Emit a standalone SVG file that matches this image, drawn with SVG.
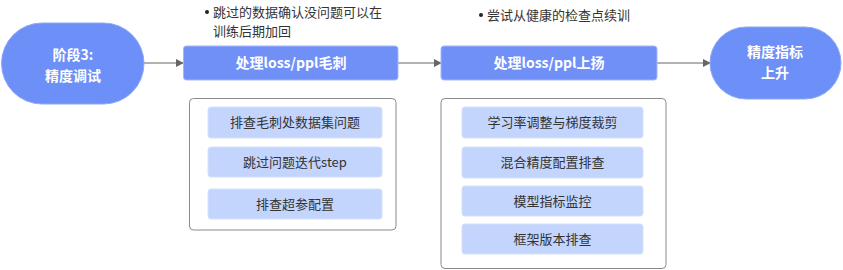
<svg xmlns="http://www.w3.org/2000/svg" width="843" height="270" viewBox="0 0 843 270">
<defs>
<marker id="arr" viewBox="0 0 10 10" refX="9" refY="5" markerWidth="8" markerHeight="8" markerUnits="userSpaceOnUse" orient="auto">
<path d="M0,0 L10,5 L0,10 z" fill="#666"/>
</marker>
<style>
.pill{fill:#6d8ff8;stroke:#8ea8f8;stroke-width:1}
.hdr{fill:#7090f8;stroke:#a3b7f9;stroke-width:1}
.wt{fill:#fff;font-family:"Noto Sans CJK SC","Noto Sans",sans-serif;font-size:14px;font-weight:bold;text-anchor:middle}
.cont{fill:#fff;stroke:#8a8a8a;stroke-width:1}
.item{fill:#c4d5fd;stroke:#d3e0fd;stroke-width:1}
.it{fill:#333;font-family:"Noto Sans CJK SC","Noto Sans",sans-serif;font-size:13px;text-anchor:middle}
.note{fill:#333;font-family:"Noto Sans CJK SC","Noto Sans",sans-serif;font-size:13px}
.conn{stroke:#666;stroke-width:1.2;fill:none}
</style>
</defs>
<rect width="843" height="270" fill="#fff"/>
<g id="connectors">
<line class="conn" x1="144" y1="63" x2="183" y2="63" marker-end="url(#arr)"/>
<line class="conn" x1="398" y1="63" x2="441" y2="63" marker-end="url(#arr)"/>
<line class="conn" x1="657" y1="63" x2="710" y2="63" marker-end="url(#arr)"/>
</g>
<g id="start">
<rect class="pill" x="1.5" y="23" width="142.5" height="81" rx="40.5"/>
<text class="wt" x="73" y="60"><tspan x="73" y="60">阶段3:</tspan><tspan x="73" y="81">精度调试</tspan></text>
</g>
<g id="note1">
<circle cx="207" cy="12" r="2" fill="#222"/>
<text class="note" x="213" y="16.5"><tspan x="213" y="16.5">跳过的数据确认没问题可以在</tspan><tspan x="213" y="35.5">训练后期加回</tspan></text>
</g>
<g id="spike">
<rect class="hdr" x="183.5" y="46" width="214.5" height="34" rx="3"/>
<text class="wt" x="291" y="68">处理loss/ppl毛刺</text>
</g>
<g id="spike-list">
<rect class="cont" x="189.5" y="98.5" width="206.5" height="131.5" rx="4"/>
<rect class="item" x="208" y="107" width="174" height="31" rx="3"/>
<text class="it" x="295" y="127">排查毛刺处数据集问题</text>
<rect class="item" x="208" y="147" width="174" height="30" rx="3"/>
<text class="it" x="295" y="166.5">跳过问题迭代step</text>
<rect class="item" x="208" y="189" width="174" height="30" rx="3"/>
<text class="it" x="295" y="208.5">排查超参配置</text>
</g>
<g id="note2">
<circle cx="481" cy="15" r="2" fill="#222"/>
<text class="note" x="487" y="19.5">尝试从健康的检查点续训</text>
</g>
<g id="rise">
<rect class="hdr" x="441" y="46" width="216" height="34" rx="3"/>
<text class="wt" x="549" y="68">处理loss/ppl上扬</text>
</g>
<g id="rise-list">
<rect class="cont" x="441" y="98.5" width="225" height="170" rx="4"/>
<rect class="item" x="462" y="107" width="181" height="31" rx="3"/>
<text class="it" x="552.5" y="127">学习率调整与梯度裁剪</text>
<rect class="item" x="462" y="147" width="181" height="31" rx="3"/>
<text class="it" x="552.5" y="167">混合精度配置排查</text>
<rect class="item" x="462" y="186" width="181" height="30" rx="3"/>
<text class="it" x="552.5" y="205.5">模型指标监控</text>
<rect class="item" x="462" y="224" width="181" height="30" rx="3"/>
<text class="it" x="552.5" y="243.5">框架版本排查</text>
</g>
<g id="end">
<rect class="pill" x="710" y="27" width="131" height="72" rx="36"/>
<text class="wt" x="775" y="57"><tspan x="775" y="57">精度指标</tspan><tspan x="775" y="78">上升</tspan></text>
</g>
</svg>
